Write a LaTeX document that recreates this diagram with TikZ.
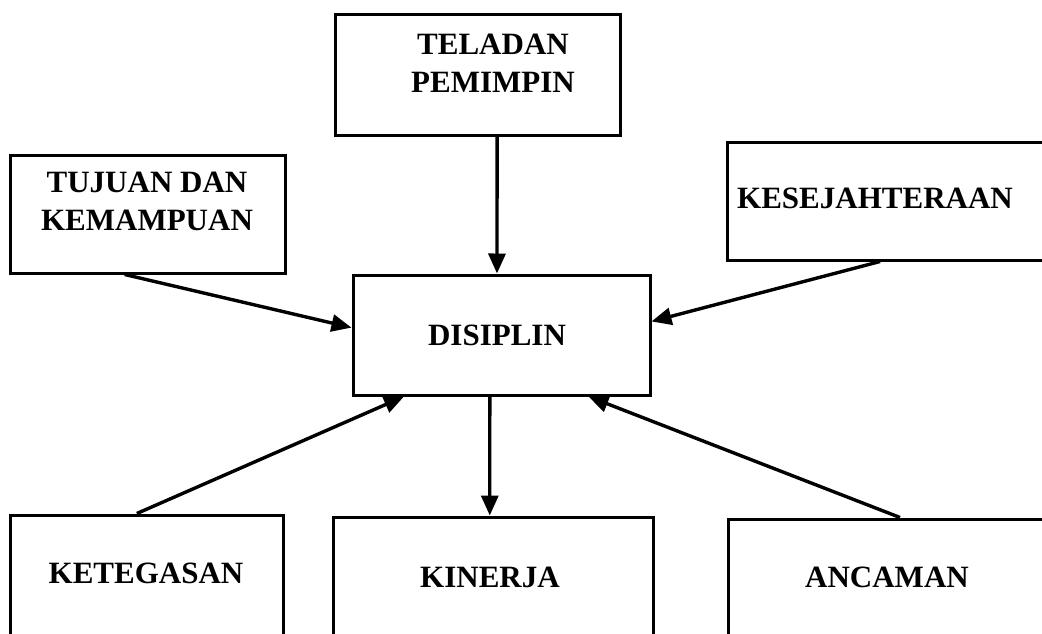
\documentclass[tikz,border=0pt]{standalone}
\usepackage{fontspec}
\setmainfont{Liberation Serif}
\usetikzlibrary{calc,arrows.meta}
\begin{document}
\begin{tikzpicture}[x=1pt,y=-1pt,
  box/.style={draw=black,line width=3pt,rectangle,inner sep=0pt},
  lbl/.style={font=\fontsize{31}{38}\selectfont\bfseries,align=center,inner sep=0pt},
  conn/.style={line width=3.4pt,-{Triangle[length=20pt,width=17pt]}}]
\useasboundingbox (0,0) rectangle (1042,634);
\clip (0,0) rectangle (1042,634);
\fill[white] (0,0) rectangle (1042,634);
% boxes
\node[box,minimum width=285pt,minimum height=120pt] (tel) at (477.5,75) {};
\node[box,minimum width=275pt,minimum height=118pt] (tuj) at (147.5,214) {};
\node[box,minimum width=333pt,minimum height=118pt] (kes) at (893.5,201) {};
\node[box,minimum width=297pt,minimum height=120pt] (dis) at (501.5,335) {};
\node[box,minimum width=273pt,minimum height=135pt] (keg) at (146.5,582.5) {};
\node[box,minimum width=320pt,minimum height=133pt] (kin) at (493,583.5) {};
\node[box,minimum width=332pt,minimum height=131pt] (anc) at (894,584.5) {};
% labels
\node[lbl] (telt) at (493,63) {TELADAN\\PEMIMPIN};
\node[lbl] (tujt) at (147,201) {TUJUAN DAN\\KEMAMPUAN};
\node[lbl] (kest) at (875,198) {KESEJAHTERAAN};
\node[lbl] (dist) at (497,335) {DISIPLIN};
\node[lbl] (kegt) at (146,573) {KETEGASAN};
\node[lbl] (kint) at (490,577) {KINERJA};
\node[lbl] (anct) at (887,577) {ANCAMAN};
% connectors
\draw[conn] ($(tel.south west)!0.568!(tel.south east)$) -- ($(dis.north west)!0.485!(dis.north east)$);
\draw[conn] ($(tuj.south west)!0.418!(tuj.south east)$) -- ($(dis.north west)!0.44!(dis.south west)$);
\draw[conn] ($(kes.south west)!0.46!(kes.south east)$) -- ($(dis.north east)!0.39!(dis.south east)$);
\draw[conn] ($(keg.north west)!0.465!(keg.north east)$) -- ($(dis.south west)!0.175!(dis.south east)$);
\draw[conn] ($(dis.south west)!0.461!(dis.south east)$) -- ($(kin.north west)!0.49!(kin.north east)$);
\draw[conn] ($(anc.north west)!0.518!(anc.north east)$) -- ($(dis.south west)!0.79!(dis.south east)$);
\end{tikzpicture}
\end{document}
